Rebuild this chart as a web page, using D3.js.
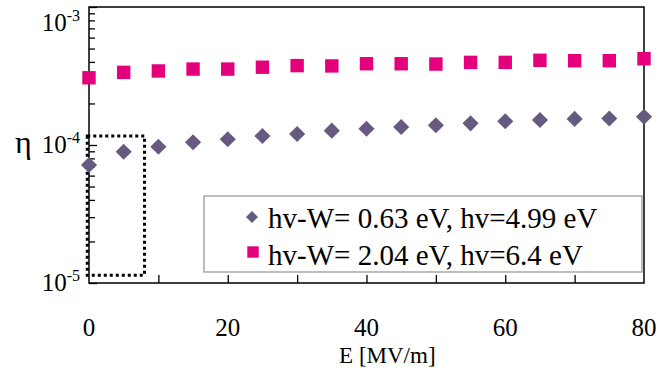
<!DOCTYPE html>
<html>
<head>
<meta charset="utf-8">
<script src="https://cdn.jsdelivr.net/npm/d3@7"></script>
<style>
  body { margin: 0; background: #fff; }
  svg text { font-family: "Liberation Serif", "Times New Roman", serif; fill: #000; }
</style>
</head>
<body>
<div id="chart"></div>
<script>
// field values E [MV/m]
const fieldE = [0, 5, 10, 15, 20, 25, 30, 35, 40, 45, 50, 55, 60, 65, 70, 75, 80];
// hv-W = 0.63 eV
const etaLow = [7.16e-5, 8.94e-5, 9.72e-5, 1.046e-4, 1.10e-4, 1.162e-4, 1.202e-4, 1.27e-4, 1.312e-4,
  1.35e-4, 1.389e-4, 1.436e-4, 1.485e-4, 1.518e-4, 1.545e-4, 1.555e-4, 1.603e-4];
// hv-W = 2.04 eV
const etaHigh = [3.07e-4, 3.36e-4, 3.44e-4, 3.55e-4, 3.55e-4, 3.66e-4, 3.76e-4, 3.74e-4, 3.88e-4,
  3.88e-4, 3.86e-4, 3.97e-4, 3.97e-4, 4.11e-4, 4.08e-4, 4.08e-4, 4.22e-4];
const seriesNames = ["hv-W= 0.63 eV, hv=4.99 eV", "hv-W= 2.04 eV, hv=6.4 eV"];
const xLabelTicks = [0, 20, 40, 60, 80];
const xMinorTicks = [10, 20, 30, 40, 50, 60, 70];
const yLabelTicks = [1e-3, 1e-4, 1e-5];
const yLabelExp = ["-3", "-4", "-5"];
// dotted box drawn round the low-field points
const boxE = [-0.25, 8];
const boxEta = [1.14e-5, 1.16e-4];

var margin = { top: 7, right: 14, bottom: 94, left: 89 },
  width = 658 - margin.left - margin.right,
  height = 377 - margin.top - margin.bottom;
var pink = "#e4007c";
var purple = "#675a80";
var serif = '"Liberation Serif", "Times New Roman", serif';

var svg = d3
  .select("#chart")
  .append("svg")
  .attr("width", 658)
  .attr("height", 377)
  .attr("font-family", serif)
  .append("g")
  .attr("transform", "translate(" + margin.left + "," + margin.top + ")");

var x = d3.scaleLinear().domain([0, 80]).range([0, width]);
var y = d3.scaleLog().domain([1e-5, 1e-3]).range([height, 0]);

// log ticks on the inside of the left axis
var yAxis = d3.axisRight(y).tickFormat("").tickSizeOuter(0);
var gy = svg.append("g").attr("class", "y axis").call(yAxis);
gy.select(".domain").remove();
gy.selectAll(".tick line")
  .attr("stroke", "#000")
  .attr("stroke-width", 1.3)
  .attr("x2", function (d) {
    return yLabelTicks.indexOf(d) >= 0 ? 8 : 6;
  });

var xAxis = d3.axisTop(x).tickValues(xMinorTicks).tickFormat("").tickSize(8).tickSizeOuter(0);
var gx = svg.append("g").attr("transform", "translate(0," + height + ")").call(xAxis);
gx.select(".domain").remove();
gx.selectAll(".tick line").attr("stroke", "#000").attr("stroke-width", 1.3);

// x tick labels
svg.selectAll(".xlabel")
  .data(xLabelTicks)
  .enter()
  .append("text")
  .attr("class", "xlabel")
  .attr("x", function (d) { return x(d); })
  .attr("y", height + 53)
  .attr("text-anchor", "middle")
  .style("font-family", serif)
  .style("font-size", "25px")
  .text(function (d) { return d; });

// y tick labels as 10^n
var yl = svg.selectAll(".ylabel")
  .data(yLabelTicks)
  .enter()
  .append("text")
  .attr("class", "ylabel")
  .attr("x", -9)
  .attr("y", function (d) { return Math.max(y(d) + 8, 24); })
  .attr("text-anchor", "end")
  .style("font-family", serif)
  .style("font-size", "25px");
yl.append("tspan").text("10");
yl.append("tspan")
  .attr("dy", -10)
  .style("font-size", "16px")
  .text(function (d, i) { return yLabelExp[i]; });

svg.append("text")
  .attr("x", -74)
  .attr("y", y(1e-4) + 8)
  .style("font-family", serif)
  .style("font-size", "32px")
  .text("η");

svg.append("text")
  .attr("x", x(43))
  .attr("y", height + 80)
  .attr("text-anchor", "middle")
  .style("font-family", serif)
  .style("font-size", "23px")
  .text("E [MV/m]");

// frame
svg.append("rect")
  .attr("width", width)
  .attr("height", height)
  .attr("fill", "none")
  .attr("stroke", "#000")
  .attr("stroke-width", 1.5);

// dotted box
svg.append("rect")
  .attr("x", x(boxE[0]))
  .attr("y", y(boxEta[1]))
  .attr("width", x(boxE[1]) - x(boxE[0]))
  .attr("height", y(boxEta[0]) - y(boxEta[1]))
  .attr("fill", "none")
  .attr("stroke", "#000")
  .attr("stroke-width", 3)
  .attr("stroke-dasharray", "3,3");

var diamond = d3.symbol().type(d3.symbolSquare).size(130);
var square = d3.symbol().type(d3.symbolSquare).size(180);

svg.selectAll(".sq")
  .data(fieldE)
  .enter()
  .append("path")
  .attr("class", "sq")
  .attr("d", square)
  .attr("fill", pink)
  .attr("transform", function (d, i) {
    return "translate(" + x(d) + "," + y(etaHigh[i]) + ")";
  });

svg.selectAll(".dm")
  .data(fieldE)
  .enter()
  .append("path")
  .attr("class", "dm")
  .attr("d", diamond)
  .attr("fill", purple)
  .attr("transform", function (d, i) {
    return "translate(" + x(d) + "," + y(etaLow[i]) + ") rotate(45)";
  });

// legend
var legend = svg.append("g").attr("transform", "translate(115,189)");
legend.append("rect")
  .attr("width", 438)
  .attr("height", 76)
  .attr("fill", "#fff")
  .attr("stroke", "#9a9a9a")
  .attr("stroke-width", 1.3);
legend.append("path")
  .attr("d", d3.symbol().type(d3.symbolSquare).size(72))
  .attr("fill", purple)
  .attr("transform", "translate(48,21) rotate(45)");
legend.append("path")
  .attr("d", d3.symbol().type(d3.symbolSquare).size(130))
  .attr("fill", pink)
  .attr("transform", "translate(49,56)");
legend.selectAll(".lt")
  .data(seriesNames)
  .enter()
  .append("text")
  .attr("class", "lt")
  .attr("x", 64)
  .attr("y", function (d, i) { return 32 + i * 37; })
  .style("font-family", serif)
  .style("font-size", "29px")
  .text(function (d) { return d; });
</script>
</body>
</html>
